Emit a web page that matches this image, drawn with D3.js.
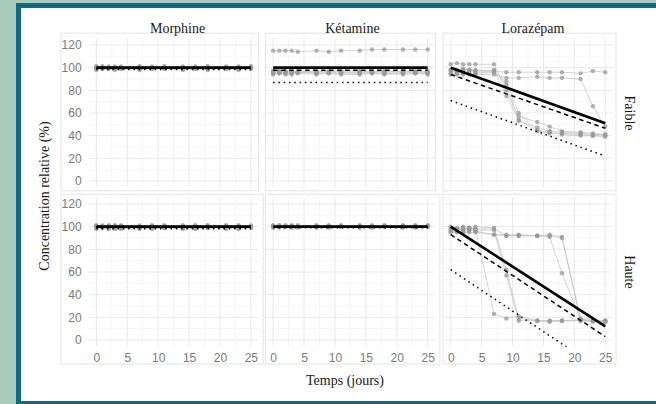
<!DOCTYPE html>
<html>
<head>
<meta charset="utf-8">
<script src="https://cdn.jsdelivr.net/npm/d3@7"></script>
<style>
  body { margin: 0; background: #a8ccb8; }
  svg { display: block; }
</style>
</head>
<body>
<div id="chart"></div>
<script>
// sampling days and facets
var days = [0, 1, 2, 3, 4, 7, 9, 11, 14, 16, 18, 21, 23, 25];
var drugs = ["Morphine", "Kétamine", "Lorazépam"];
var levels = ["Faible", "Haute"];
var xTicks = [0, 5, 10, 15, 20, 25];
var yTicks = [0, 20, 40, 60, 80, 100, 120];

// individual syringes (relative concentration %, one value per day)
var morphineFaible = [
  [100, 101, 100, 99, 101, 100, 101, 100, 100, 101, 99, 100, 101, 100],
  [99, 100, 99, 100, 100, 99, 100, 99, 101, 100, 100, 99, 100, 101],
  [101, 100, 101, 100, 99, 101, 100, 101, 100, 99, 101, 100, 100, 99],
  [98, 99, 99, 98, 99, 98, 99, 99, 98, 99, 98, 99, 98, 99],
  [100, 99, 100, 101, 100, 100, 99, 100, 99, 100, 100, 101, 99, 100],
  [101, 101, 100, 100, 100, 101, 100, 101, 100, 100, 101, 100, 100, 101]
];
var ketamineFaible = [
  [115, 115, 115, 115, 114, 115, 114, 115, 115, 116, 116, 116, 116, 116],
  [97, 96, 97, 96, 96, 97, 96, 96, 96, 97, 96, 96, 97, 96],
  [95, 95, 95, 95, 96, 95, 95, 95, 95, 95, 95, 94, 95, 94],
  [96, 96, 96, 97, 96, 96, 97, 96, 96, 96, 97, 96, 96, 96],
  [94, 95, 94, 94, 95, 94, 95, 94, 94, 95, 94, 95, 95, 95],
  [97, 97, 96, 96, 97, 96, 96, 97, 97, 96, 96, 97, 96, 97]
];
var lorazepamFaible = [
  [103, 104, 103, 103, 103, 103, 80, 57, 52, 48, 44, 43, 42, 41],
  [98, 98, 99, 98, 98, 97, 96, 96, 96, 96, 96, 95, 97, 96],
  [94, 94, 95, 94, 94, 94, 91, 91, 92, 91, 91, 90, 66, 48],
  [98, 97, 98, 98, 97, 98, 75, 54, 44, 42, 42, 41, 40, 40],
  [95, 95, 94, 95, 95, 96, 88, 60, 45, 43, 41, 40, 40, 39],
  [97, 96, 97, 97, 96, 97, 85, 53, 47, 44, 43, 42, 41, 41]
];
var morphineHaute = [
  [101, 100, 101, 100, 101, 100, 101, 100, 101, 100, 100, 101, 100, 101],
  [99, 99, 98, 99, 99, 98, 99, 99, 98, 99, 99, 98, 99, 99],
  [100, 101, 100, 101, 100, 101, 100, 101, 100, 101, 101, 100, 101, 100],
  [98, 99, 99, 98, 98, 99, 98, 99, 99, 98, 99, 99, 98, 99],
  [100, 100, 101, 100, 100, 100, 101, 100, 100, 101, 100, 100, 101, 100],
  [101, 100, 100, 101, 101, 100, 100, 101, 101, 100, 101, 101, 100, 100]
];
var ketamineHaute = [
  [101, 100, 101, 101, 100, 101, 101, 100, 101, 101, 100, 101, 101, 101],
  [100, 101, 100, 100, 101, 100, 100, 101, 100, 100, 101, 100, 100, 100],
  [99, 100, 100, 99, 100, 100, 99, 100, 100, 99, 100, 100, 99, 100],
  [101, 101, 100, 101, 101, 101, 100, 101, 101, 100, 101, 101, 100, 101],
  [100, 99, 100, 100, 99, 100, 100, 100, 99, 100, 100, 99, 100, 100],
  [100, 100, 101, 100, 100, 99, 101, 100, 100, 101, 100, 100, 101, 100]
];
var lorazepamHaute = [
  [98, 98, 99, 98, 98, 23, 19, 21, 17, 17, 17, 17, 17, 16],
  [100, 99, 100, 99, 100, 99, 62, 19, 17, 17, 17, 18, 17, 16],
  [97, 97, 98, 97, 97, 97, 57, 17, 17, 16, 17, 17, 16, 17],
  [96, 96, 96, 97, 96, 93, 93, 93, 92, 93, 91, 18, 17, 17],
  [95, 95, 95, 95, 95, 93, 92, 92, 92, 91, 59, 18, 17, 16],
  [99, 98, 98, 99, 98, 98, 92, 92, 92, 92, 90, 19, 18, 17]
];
var panelSeries = [morphineFaible, ketamineFaible, lorazepamFaible,
                   morphineHaute, ketamineHaute, lorazepamHaute];

// fitted lines: value at day 0 and day 25 (same panel order)
var fitDays = [0, 25];
var fitSolid  = [[100, 100], [100, 100], [100, 51], [100, 100], [100, 100], [100, 12]];
var fitDashed = [[99.4, 99.4], [97.8, 97.8], [94, 46.5], [99.4, 99.4], [99.5, 99.5], [93, 3]];
var fitDotted = [[98.4, 98.4], [87, 87], [71, 22], [98.2, 98.2], [99, 99], [62, -29]];

// layout
var width = 656, height = 404;
var colX = [88.6, 265.4, 443];
var rowY = [38.2, 197.2];
var pw = 170, ph = 149.6;

var svg = d3.select("#chart").append("svg")
    .attr("width", width).attr("height", height);

// frame
svg.append("rect").attr("width", width).attr("height", height).attr("fill", "#a8ccb8");
svg.append("rect").attr("x", 16).attr("y", 3).attr("width", width - 16).attr("height", height - 3).attr("fill", "#0f6a8a");
svg.append("rect").attr("x", 21).attr("y", 8).attr("width", width - 21).attr("height", 393).attr("fill", "white");

var lineGen = function(xs, ys) {
    return d3.line().x(function(d) { return xs(d[0]); }).y(function(d) { return ys(d[1]); });
};

levels.forEach(function(level, r) {
  drugs.forEach(function(drug, c) {
    var idx = r * 3 + c;
    var x0 = colX[c], y0 = rowY[r];
    var x = d3.scaleLinear().domain([-1.25, 26.25]).range([x0, x0 + pw]);
    var y = d3.scaleLinear().domain([-6, 126]).range([y0 + ph, y0]);

    // panel border (includes axis label area on outer panels)
    var bl = c == 0 ? 27.6 : 0;
    var br = (c == 2) ? 3 : (r == 1 ? 4.5 : 0);
    var bt = r == 0 ? 5 : 3;
    var bb = r == 0 ? 3 : 17.2;
    svg.append("rect")
        .attr("x", x0 - bl).attr("y", y0 - bt)
        .attr("width", pw + bl + br).attr("height", ph + bt + bb)
        .attr("fill", "none").attr("stroke", "#e3e3e3").attr("stroke-width", 1);

    // grid
    var g = svg.append("g");
    var minorX = [-1.25].concat(d3.range(2.5, 26, 5));
    var minorY = d3.range(10, 121, 20);
    g.selectAll(".mx").data(minorX.slice(1)).enter().append("line")
        .attr("x1", function(d) { return x(d); }).attr("x2", function(d) { return x(d); })
        .attr("y1", y0).attr("y2", y0 + ph)
        .attr("stroke", "#f2f2f2").attr("stroke-width", 0.8);
    g.selectAll(".my").data(minorY).enter().append("line")
        .attr("x1", x0).attr("x2", x0 + pw)
        .attr("y1", function(d) { return y(d); }).attr("y2", function(d) { return y(d); })
        .attr("stroke", "#f2f2f2").attr("stroke-width", 0.8);
    g.selectAll(".gx").data(xTicks).enter().append("line")
        .attr("x1", function(d) { return x(d); }).attr("x2", function(d) { return x(d); })
        .attr("y1", y0).attr("y2", y0 + ph)
        .attr("stroke", "#e8e8e8").attr("stroke-width", 1);
    g.selectAll(".gy").data(yTicks).enter().append("line")
        .attr("x1", x0).attr("x2", x0 + pw)
        .attr("y1", function(d) { return y(d); }).attr("y2", function(d) { return y(d); })
        .attr("stroke", "#e8e8e8").attr("stroke-width", 1);

    // clip to the data area
    var clipId = "clip" + idx;
    svg.append("clipPath").attr("id", clipId).append("rect")
        .attr("x", x0).attr("y", y0).attr("width", pw).attr("height", ph);
    var plot = svg.append("g").attr("clip-path", "url(#" + clipId + ")");

    var series = panelSeries[idx].map(function(vals) {
        return vals.map(function(v, i) { return [days[i], v]; });
    });
    var lg = lineGen(x, y);
    plot.selectAll(".series").data(series).enter().append("path")
        .attr("d", lg)
        .attr("fill", "none")
        .attr("stroke", "#c4c4c4")
        .attr("stroke-opacity", 0.75)
        .attr("stroke-width", 1);
    series.forEach(function(s) {
        plot.selectAll(null).data(s).enter().append("circle")
            .attr("cx", function(d) { return x(d[0]); })
            .attr("cy", function(d) { return y(d[1]); })
            .attr("r", 2.2)
            .attr("fill", "#9a9a9a")
            .attr("fill-opacity", 0.75);
    });

    // fitted lines
    var pts = function(arr) { return arr[idx].map(function(v, i) { return [fitDays[i], v]; }); };
    plot.append("path").attr("d", lg(pts(fitDotted)))
        .attr("fill", "none").attr("stroke", "black")
        .attr("stroke-width", 1.5).attr("stroke-dasharray", "1.5,3.8");
    plot.append("path").attr("d", lg(pts(fitDashed)))
        .attr("fill", "none").attr("stroke", "black")
        .attr("stroke-width", 1.5).attr("stroke-dasharray", "4.5,3.5");
    plot.append("path").attr("d", lg(pts(fitSolid)))
        .attr("fill", "none").attr("stroke", "black")
        .attr("stroke-width", 2.6);

    // axes labels
    if (c == 0) {
        var ya = svg.append("g").attr("transform", "translate(" + x0 + ",0)")
            .call(d3.axisLeft(y).tickValues(yTicks).tickSize(0).tickPadding(7));
        ya.select(".domain").remove();
        ya.selectAll("text").attr("font-family", "Liberation Sans, Arial, sans-serif")
            .attr("font-size", 12).attr("fill", "#7a7a7a");
    }
    if (r == 1) {
        var xa = svg.append("g").attr("transform", "translate(0," + (y0 + ph) + ")")
            .call(d3.axisBottom(x).tickValues(xTicks).tickSize(0).tickPadding(7));
        xa.select(".domain").remove();
        xa.selectAll("text").attr("font-family", "Liberation Sans, Arial, sans-serif")
            .attr("font-size", 12).attr("fill", "#7a7a7a");
    }
  });
});

var serif = "Liberation Serif, Times New Roman, serif";
var stripShift = [4, 2, 5];

// strips
drugs.forEach(function(drug, c) {
    svg.append("text")
        .attr("x", colX[c] + pw / 2 + stripShift[c]).attr("y", 32.5)
        .attr("text-anchor", "middle")
        .attr("font-family", serif).attr("font-size", 14).attr("fill", "#1a1a1a")
        .text(drug);
});
levels.forEach(function(level, r) {
    var cy = rowY[r] + ph / 2;
    svg.append("text")
        .attr("transform", "translate(625," + cy + ") rotate(90)")
        .attr("text-anchor", "middle")
        .attr("font-family", serif).attr("font-size", 14).attr("fill", "#1a1a1a")
        .text(level);
});

// axis titles
svg.append("text")
    .attr("transform", "translate(49,196) rotate(-90)")
    .attr("text-anchor", "middle")
    .attr("font-family", serif).attr("font-size", 14).attr("fill", "#1a1a1a")
    .text("Concentration relative (%)");
svg.append("text")
    .attr("x", 345).attr("y", 385)
    .attr("text-anchor", "middle")
    .attr("font-family", serif).attr("font-size", 14).attr("fill", "#1a1a1a")
    .text("Temps (jours)");
</script>
</body>
</html>
